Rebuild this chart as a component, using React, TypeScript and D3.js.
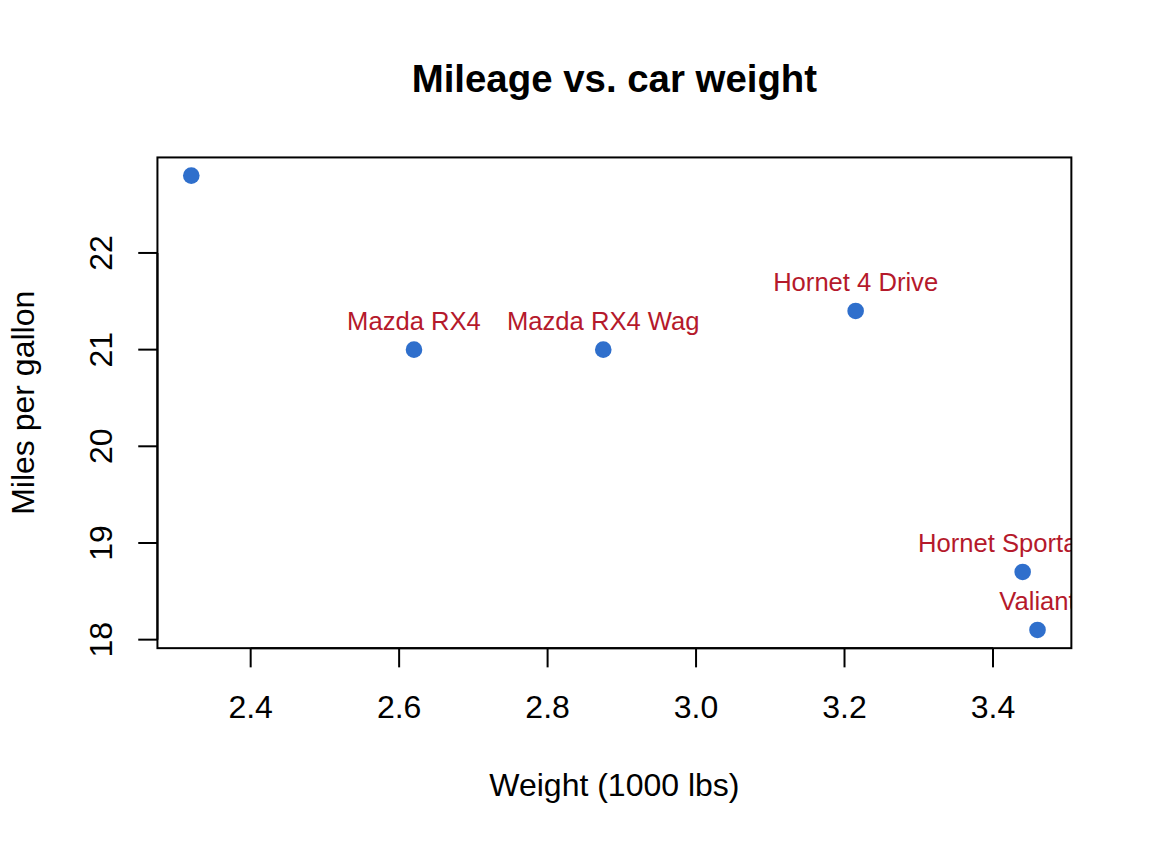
import React from "react";
import * as d3 from "d3";

const carNames = ["Mazda RX4", "Mazda RX4 Wag", "Datsun 710", "Hornet 4 Drive", "Hornet Sportabout", "Valiant"];
const weights = [2.62, 2.875, 2.32, 3.215, 3.44, 3.46];
const mpgValues = [21.0, 21.0, 22.8, 21.4, 18.7, 18.1];
const labelled = [true, true, false, true, true, true];
const xTicks = [2.4, 2.6, 2.8, 3.0, 3.2, 3.4];
const yTicks = [18, 19, 20, 21, 22];

const W = 1152;
const H = 844;
const lineH = 38.4; // one R margin line
const margin = { top: 4.1 * lineH, right: 2.1 * lineH, bottom: 5.1 * lineH, left: 4.1 * lineH };
const font = "'Liberation Sans', Arial, Helvetica, sans-serif";

const pointColor = "#2F6FCC";
const labelColor = "#B5192B";

// R pads the data range by 4% on each side
const pad = (ext: number[]) => {
  const d = (ext[1] - ext[0]) * 0.04;
  return [ext[0] - d, ext[1] + d];
};

const App = () => {
  const left = margin.left;
  const right = W - margin.right;
  const top = margin.top;
  const bottom = H - margin.bottom;

  const x = d3.scaleLinear().domain(pad(d3.extent(weights) as number[])).range([left, right]);
  const y = d3.scaleLinear().domain(pad(d3.extent(mpgValues) as number[])).range([bottom, top]);

  const tick = 19.2;
  const cx = (left + right) / 2;
  const cy = (top + bottom) / 2;

  return (
    <svg
      width={W}
      height={H}
      style={{ position: "absolute", left: 0, top: 0, background: "#fff", fontFamily: font }}
    >
      <defs>
        <clipPath id="plotClip">
          <rect x={left} y={top} width={right - left} height={bottom - top} />
        </clipPath>
      </defs>

      <text x={cx} y={92} textAnchor="middle" fontSize={38.4} fontWeight="bold" fill="#000">
        Mileage vs. car weight
      </text>

      {/* points */}
      {weights.map((w, i) => (
        <circle key={"p" + i} cx={x(w)} cy={y(mpgValues[i])} r={8.3} fill={pointColor} />
      ))}

      {/* labels, clipped to plot region */}
      <g clipPath="url(#plotClip)">
        {weights.map((w, i) =>
          labelled[i] ? (
            <text
              key={"l" + i}
              x={x(w)}
              y={y(mpgValues[i]) - 20}
              textAnchor="middle"
              fontSize={25.6}
              fill={labelColor}
            >
              {carNames[i]}
            </text>
          ) : null
        )}
      </g>

      <rect x={left} y={top} width={right - left} height={bottom - top} fill="none" stroke="#000" strokeWidth={2} />

      {/* x axis */}
      <line x1={x(xTicks[0])} x2={x(xTicks[xTicks.length - 1])} y1={bottom} y2={bottom} stroke="#000" strokeWidth={2} />
      {xTicks.map((t) => (
        <g key={"xt" + t}>
          <line x1={x(t)} x2={x(t)} y1={bottom} y2={bottom + tick} stroke="#000" strokeWidth={2} />
          <text x={x(t)} y={718} textAnchor="middle" fontSize={32} fill="#000">
            {d3.format(".1f")(t)}
          </text>
        </g>
      ))}

      {/* y axis */}
      <line x1={left} x2={left} y1={y(yTicks[0])} y2={y(yTicks[yTicks.length - 1])} stroke="#000" strokeWidth={2} />
      {yTicks.map((t) => (
        <g key={"yt" + t}>
          <line x1={left - tick} x2={left} y1={y(t)} y2={y(t)} stroke="#000" strokeWidth={2} />
          <text
            transform={`translate(112,${y(t)}) rotate(-90)`}
            textAnchor="middle"
            fontSize={32}
            fill="#000"
          >
            {t}
          </text>
        </g>
      ))}

      <text x={cx} y={796} textAnchor="middle" fontSize={32} fill="#000">
        Weight (1000 lbs)
      </text>
      <text transform={`translate(34,${cy}) rotate(-90)`} textAnchor="middle" fontSize={32} fill="#000">
        Miles per gallon
      </text>
    </svg>
  );
};

export default App;
